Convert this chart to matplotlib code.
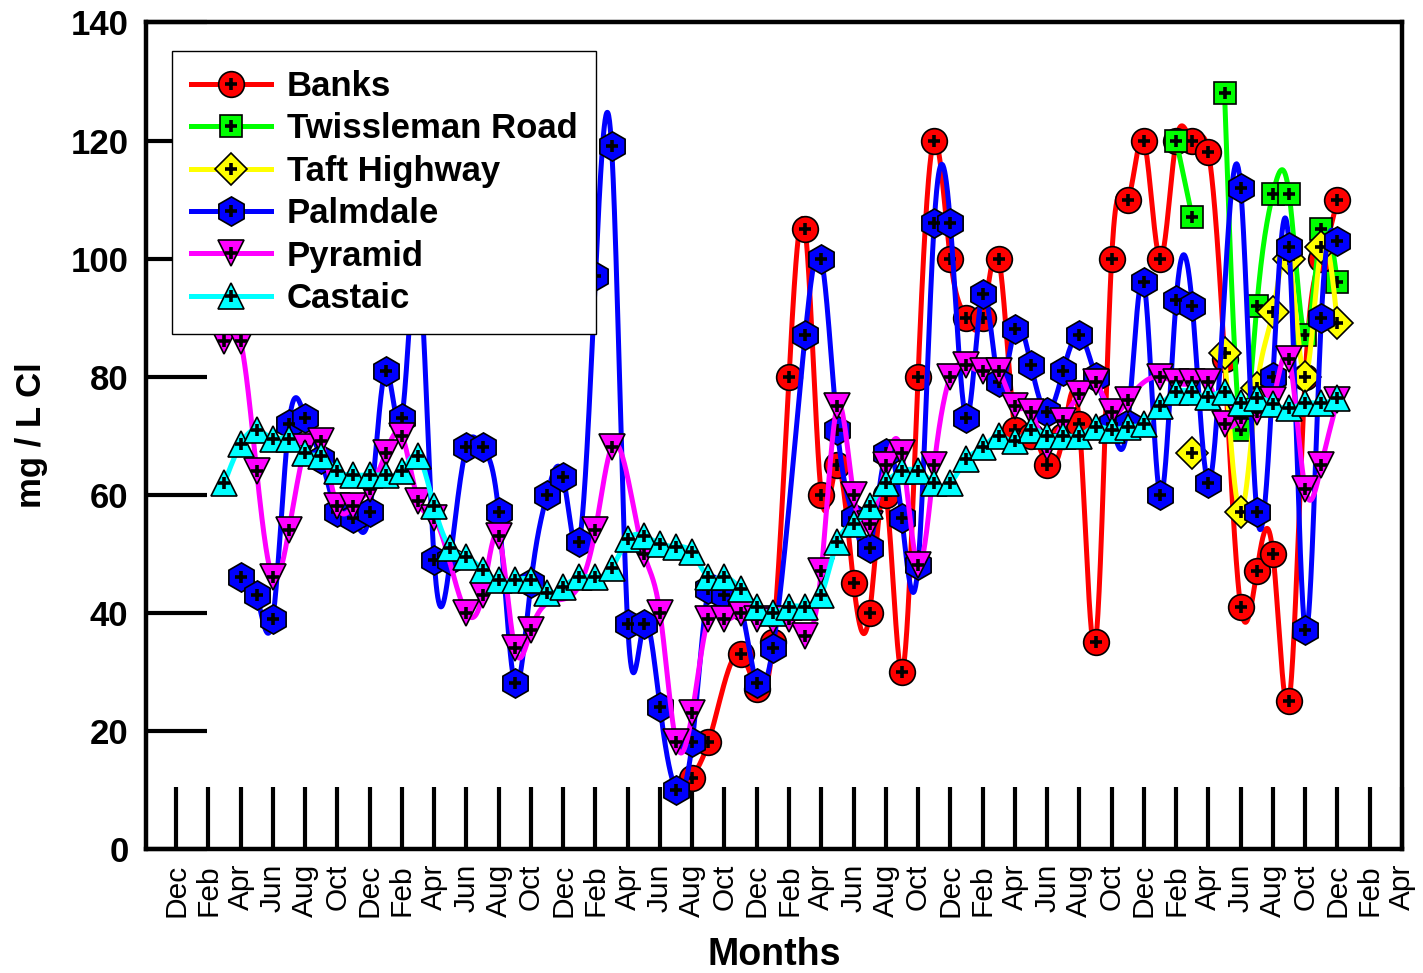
import numpy as np
import matplotlib
matplotlib.use("Agg")
import matplotlib.pyplot as plt
from matplotlib.lines import Line2D

# ---------------- data (None = no sample, line is broken there) ----------------
tick_labels = ["Dec", "Feb", "Apr", "Jun", "Aug", "Oct"] * 6 + ["Dec", "Feb", "Apr"]

banks_m = [32, 33, 35, 36, 37, 38, 39, 40, 41, 42, 43, 44, 45, 46, 47, 48, 49, 50, 51,
           52, 53, 54, 55, 56, 57, 58, 59, 60, 61, 62, 63, 64, 65, 66, 67, 68, 69, 70, 71, 72]
banks_v = [12, 18, 33, 27, 35, 80, 105, 60, 65, 45, 40, 60, 30, 80, 120, 100, 90, 90, 100,
           71, 70, 65, 70, 72, 35, 100, 110, 120, 100, 120, 120, 118, 83, 41, 47, 50, 25, 80, 100, 110]

twiss_m = [62, 63, 64, 65, 66, 67, 68, 69, 70, 71, 72]
twiss_v = [120, 107, None, 128, 71, 92, 111, 111, 87, 105, 96]

taft_m = [63, 64, 65, 66, 67, 68, 69, 70, 71, 72]
taft_v = [67, None, 84, 57, 78, 91, 100, 80, 102, 89]

palm_m = [4, 5, 6, 7, 8, 9, 10, 11, 12, 13, 14, 15, 16, 17, 18, 19, 20, 21, 22, 23,
          24, 25, 26, 27, 28, 29, 30, 31, 32, 33, 34, 35, 36, 37, 39, 40, 41, 42, 43, 44,
          45, 46, 47, 48, 49, 50, 51, 52, 53, 54, 55, 56, 57, 58, 59, 60, 61, 62, 63, 64,
          66, 67, 68, 69, 70, 71, 72]
palm_v = [46, 43, 39, 72, 73, 66, 57, 56, 57, 81, 73, 100, 49, 49, 68, 68, 57, 28, 45, 60,
          63, 52, 97, 119, 38, 38, 24, 10, 18, 44, 43, 41, 28, 34, 87, 100, 71, 56, 51, 67,
          56, 48, 106, 106, 73, 94, 79, 88, 82, 74, 81, 87, 80, 72, 72, 96, 60, 93, 92, 62,
          112, 57, 80, 102, 37, 90, 103]

pyr_m = [3, 4, 5, 6, 7, 8, 9, 10, 11, 12, 13, 14, 15, 16, 18, 19, 20, 21, 22, 26, 27,
         29, 30, 31, 32, 33, 34, 35, 36, 37, 38, 39, 40, 41, 42, 43, 44, 45, 46, 47, 48,
         49, 50, 51, 52, 53, 54, 55, 56, 57, 58, 59, 61, 62, 63, 64, 65, 66, 67, 68, 69,
         70, 71, 72]
pyr_v = [86, 86, 64, 46, 54, 68, 69, 58, 58, 61, 67, 70, 59, 56, 40, 43, 53, 34, 37, 54, 68,
         50, 40, 18, 23, 39, 39, 40, 39, 38.5, 39, 36, 47, 75, 60, 55, 65, 67, 48, 65, 80,
         82, 81, 81, 75, 74, 68, 72.5, 77, 79, 74, 76, 80, 79, 79, 79, 72, 73, 74, 76, 83,
         61, 65, 76]

cas_m = list(range(3, 73))
cas_v = [62, 68.5, 71, 69.5, 69.5, 67, 66.5, 64, 63.3, 63.3,
         63.3, 64, 66.5, 58, 51, 49.5, 47.3, 45.5, 45.5, 45.5,
         43.3, 44.4, 46, 46, 47.5, 52.4, 53, 51.7, 51.2, 50.2,
         46, 46, 44, 41, 40, 41, 41, 43, 52, 55,
         58, 62, 64, 64, 62, 62, 66, 68, 70, 69,
         71, 70, 70, 70, 71.5, 71, 71.5, 72, 75, 77.4,
         77.4, 76.6, 77.4, 75.5, 76.3, 75.4, 74.6, 75.5, 75.5, 76.3]

series_names = ["Banks", "Twissleman Road", "Taft Highway", "Palmdale", "Pyramid", "Castaic"]
series_data = [(banks_m, banks_v), (twiss_m, twiss_v), (taft_m, taft_v),
               (palm_m, palm_v), (pyr_m, pyr_v), (cas_m, cas_v)]
colors = ["#FF0000", "#00FF00", "#FFFF00", "#0000FF", "#FF00FF", "#00FFFF"]
markers = ["o", "s", "D", "h", "v", "^"]
msizes = [18.5, 16.5, 16, 21, 19, 19]


def natural_spline(x, y, pts=40):
    x = np.asarray(x, float)
    y = np.asarray(y, float)
    n = len(x)
    if n == 1:
        return x, y
    h = np.diff(x)
    A = np.zeros((n, n))
    r = np.zeros(n)
    A[0, 0] = A[-1, -1] = 1.0
    for i in range(1, n - 1):
        A[i, i - 1] = h[i - 1]
        A[i, i] = 2 * (h[i - 1] + h[i])
        A[i, i + 1] = h[i]
        r[i] = 6 * ((y[i + 1] - y[i]) / h[i] - (y[i] - y[i - 1]) / h[i - 1])
    M = np.linalg.solve(A, r)
    xs, ys = [], []
    for i in range(n - 1):
        t = np.linspace(x[i], x[i + 1], pts, endpoint=(i == n - 2))
        a = x[i + 1] - t
        b = t - x[i]
        s = ((M[i] * a ** 3 + M[i + 1] * b ** 3) / (6 * h[i])
             + (y[i] / h[i] - M[i] * h[i] / 6) * a
             + (y[i + 1] / h[i] - M[i + 1] * h[i] / 6) * b)
        xs.append(t)
        ys.append(s)
    return np.concatenate(xs), np.concatenate(ys)


def segments(mx, mv):
    segs, cur = [], []
    for m, v in zip(mx, mv):
        if v is None:
            if cur:
                segs.append(cur)
            cur = []
        else:
            cur.append((m, v))
    if cur:
        segs.append(cur)
    return segs


plt.rcParams["font.family"] = ["Liberation Sans", "DejaVu Sans"]

fig = plt.figure(figsize=(14.23, 9.73), dpi=100)
ax = fig.add_axes([0.10295, 0.12775, 0.88229, 0.84913])

LW = 3.6
handles = []
for k, (name, (mx, mv)) in enumerate(zip(series_names, series_data)):
    z = 3 + k
    px, pv = [], []
    for seg in segments(mx, mv):
        sx_, sv_ = zip(*seg)
        px += sx_
        pv += sv_
        if len(seg) > 1:
            sx, sy = natural_spline(sx_, sv_)
            ax.plot(sx, sy, color=colors[k], lw=LW, zorder=z, solid_capstyle="round")
    ax.plot(px, pv, ls="none", marker=markers[k], ms=msizes[k], mfc=colors[k],
            mec="black", mew=1.2, zorder=z + 0.1)
    ax.plot(px, pv, ls="none", marker="+", ms=9, mec="black", mew=2.6, zorder=z + 0.2)
    h1 = Line2D([], [], color=colors[k], lw=LW, marker=markers[k], ms=msizes[k],
                mfc=colors[k], mec="black", mew=1.2)
    h2 = Line2D([], [], ls="none", marker="+", ms=9, mec="black", mew=2.6)
    handles.append((h1, h2))

ax.set_xlim(-1.83, 76)
ax.set_ylim(0, 140)
ax.set_xticks(range(0, 77, 2))
ax.set_xticklabels(tick_labels, rotation=90,
                   family=["Liberation Sans Narrow", "Liberation Sans", "DejaVu Sans"],
                   fontsize=21.5)
ax.set_yticks(range(0, 141, 20))
ax.set_yticklabels([str(v) for v in range(0, 141, 20)], fontsize=25, fontweight="bold")
ax.tick_params(axis="x", direction="in", length=45, width=3, pad=11)
ax.tick_params(axis="y", direction="in", length=44, width=3, pad=13)
for sp in ax.spines.values():
    sp.set_linewidth(3.2)

ax.set_xlabel("Months", fontsize=27, fontweight="bold", labelpad=14)
ax.set_ylabel("mg / L Cl", fontsize=25, fontweight="bold", labelpad=16)

leg = ax.legend(handles, series_names, loc="upper left", bbox_to_anchor=(0.0203, 0.9655),
                borderaxespad=0, fancybox=False, framealpha=1, edgecolor="black",
                prop={"size": 25, "weight": "bold"}, handlelength=2.3, handletextpad=0.45,
                labelspacing=0.27, borderpad=0.55, numpoints=1)
leg.get_frame().set_linewidth(1.0)
leg.set_zorder(20)

fig.savefig("out.png", dpi=100)
